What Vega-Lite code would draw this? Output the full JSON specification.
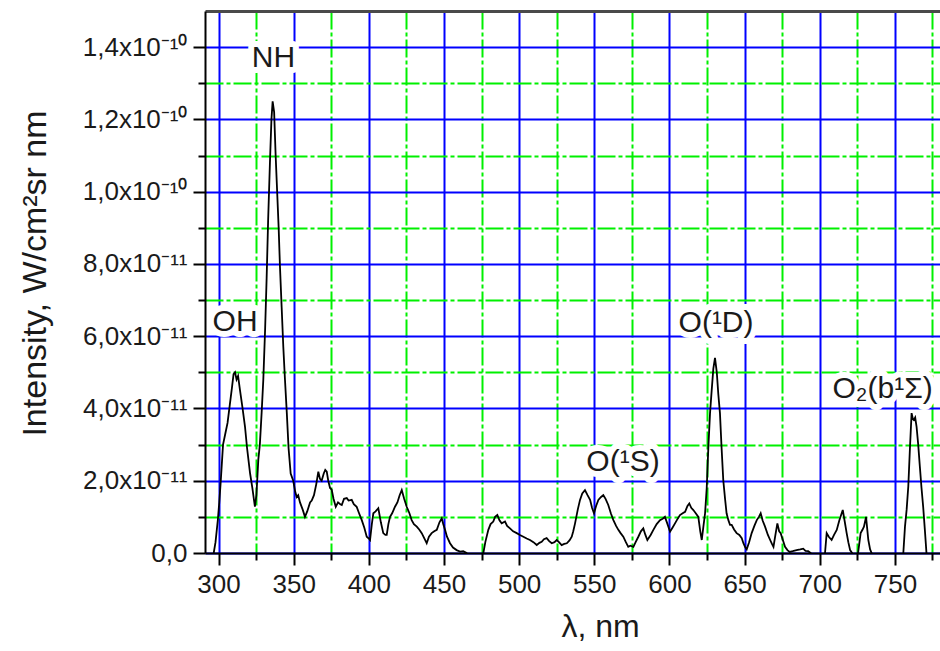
{
  "$schema": "https://vega.github.io/schema/vega-lite/v6.json",
  "width": 735,
  "height": 542,
  "autosize": {"type": "none"},
  "padding": {"left": 205, "top": 11, "right": 0, "bottom": 98},
  "background": "white",
  "config": {
    "view": {"stroke": null},
    "font": "Liberation Sans",
    "axis": {"labelFont": "Liberation Sans", "titleFont": "Liberation Sans", "titleFontWeight": "normal", "labelColor": "#1a1a1a", "titleColor": "#1a1a1a"}
  },
  "datasets": {
    "spectrum": [
      {"lam": 296.0, "I": -0.1e-11}, {"lam": 296.8, "I": 0.0}, {"lam": 298.0, "I": 0.3e-11}, {"lam": 299.5, "I": 0.9e-11},
      {"lam": 300.5, "I": 1.4e-11}, {"lam": 301.5, "I": 2.0e-11}, {"lam": 303.0, "I": 3.0e-11}, {"lam": 304.5, "I": 3.3e-11},
      {"lam": 306.0, "I": 3.6e-11}, {"lam": 307.5, "I": 4.1e-11}, {"lam": 309.0, "I": 4.6e-11}, {"lam": 310.0, "I": 4.95e-11},
      {"lam": 311.0, "I": 5.0e-11}, {"lam": 312.0, "I": 4.8e-11}, {"lam": 313.0, "I": 4.9e-11}, {"lam": 314.3, "I": 4.5e-11},
      {"lam": 316.0, "I": 4.0e-11}, {"lam": 317.6, "I": 3.5e-11}, {"lam": 319.0, "I": 2.9e-11}, {"lam": 321.0, "I": 2.2e-11},
      {"lam": 322.5, "I": 1.8e-11}, {"lam": 324.2, "I": 1.28e-11}, {"lam": 325.2, "I": 1.6e-11}, {"lam": 326.5, "I": 2.6e-11},
      {"lam": 327.5, "I": 3.0e-11}, {"lam": 328.7, "I": 3.9e-11}, {"lam": 329.8, "I": 4.8e-11}, {"lam": 331.0, "I": 6.2e-11},
      {"lam": 332.0, "I": 7.6e-11}, {"lam": 333.0, "I": 9.2e-11}, {"lam": 334.2, "I": 10.8e-11}, {"lam": 335.2, "I": 12.0e-11},
      {"lam": 336.0, "I": 12.5e-11}, {"lam": 337.0, "I": 12.2e-11}, {"lam": 338.0, "I": 11.0e-11}, {"lam": 338.7, "I": 10.3e-11},
      {"lam": 340.0, "I": 9.0e-11}, {"lam": 340.9, "I": 7.9e-11}, {"lam": 342.0, "I": 6.8e-11}, {"lam": 343.1, "I": 5.7e-11},
      {"lam": 344.2, "I": 4.8e-11}, {"lam": 345.4, "I": 3.9e-11}, {"lam": 346.6, "I": 2.9e-11}, {"lam": 348.0, "I": 2.2e-11},
      {"lam": 349.7, "I": 2.0e-11}, {"lam": 351.0, "I": 1.7e-11}, {"lam": 352.0, "I": 1.55e-11}, {"lam": 353.0, "I": 1.6e-11},
      {"lam": 354.2, "I": 1.4e-11}, {"lam": 356.0, "I": 1.2e-11}, {"lam": 357.5, "I": 1.0e-11}, {"lam": 359.0, "I": 1.15e-11},
      {"lam": 360.9, "I": 1.4e-11}, {"lam": 362.0, "I": 1.45e-11}, {"lam": 363.5, "I": 1.6e-11}, {"lam": 365.0, "I": 1.9e-11},
      {"lam": 366.4, "I": 2.25e-11}, {"lam": 367.5, "I": 2.05e-11}, {"lam": 368.6, "I": 2.0e-11}, {"lam": 370.0, "I": 2.2e-11},
      {"lam": 371.0, "I": 2.3e-11}, {"lam": 372.0, "I": 2.25e-11}, {"lam": 373.0, "I": 2.0e-11}, {"lam": 374.2, "I": 1.8e-11},
      {"lam": 375.3, "I": 1.75e-11}, {"lam": 376.5, "I": 1.5e-11}, {"lam": 378.0, "I": 1.28e-11}, {"lam": 379.5, "I": 1.4e-11},
      {"lam": 381.0, "I": 1.35e-11}, {"lam": 382.0, "I": 1.33e-11}, {"lam": 383.5, "I": 1.5e-11}, {"lam": 385.3, "I": 1.52e-11},
      {"lam": 386.5, "I": 1.45e-11}, {"lam": 388.6, "I": 1.47e-11}, {"lam": 390.0, "I": 1.35e-11}, {"lam": 391.9, "I": 1.28e-11},
      {"lam": 393.5, "I": 1.1e-11}, {"lam": 395.3, "I": 0.91e-11}, {"lam": 397.0, "I": 0.7e-11}, {"lam": 398.6, "I": 0.45e-11},
      {"lam": 400.0, "I": 0.4e-11}, {"lam": 400.8, "I": 0.36e-11}, {"lam": 402.0, "I": 0.8e-11}, {"lam": 403.0, "I": 1.1e-11},
      {"lam": 404.5, "I": 1.15e-11}, {"lam": 406.3, "I": 1.24e-11}, {"lam": 408.0, "I": 0.85e-11}, {"lam": 409.6, "I": 0.55e-11},
      {"lam": 411.0, "I": 0.5e-11}, {"lam": 411.9, "I": 0.5e-11}, {"lam": 413.0, "I": 0.8e-11}, {"lam": 414.1, "I": 1.0e-11},
      {"lam": 415.5, "I": 1.1e-11}, {"lam": 417.4, "I": 1.28e-11}, {"lam": 419.0, "I": 1.4e-11}, {"lam": 420.5, "I": 1.6e-11},
      {"lam": 421.9, "I": 1.74e-11}, {"lam": 423.5, "I": 1.5e-11}, {"lam": 425.2, "I": 1.28e-11}, {"lam": 427.0, "I": 1.1e-11},
      {"lam": 428.5, "I": 0.91e-11}, {"lam": 430.0, "I": 0.8e-11}, {"lam": 431.9, "I": 0.73e-11}, {"lam": 433.5, "I": 0.65e-11},
      {"lam": 435.2, "I": 0.55e-11}, {"lam": 437.0, "I": 0.4e-11}, {"lam": 438.5, "I": 0.27e-11}, {"lam": 440.0, "I": 0.45e-11},
      {"lam": 441.8, "I": 0.55e-11}, {"lam": 443.5, "I": 0.6e-11}, {"lam": 445.2, "I": 0.64e-11}, {"lam": 447.0, "I": 0.85e-11},
      {"lam": 448.5, "I": 0.96e-11}, {"lam": 449.5, "I": 0.8e-11}, {"lam": 450.7, "I": 0.64e-11}, {"lam": 452.0, "I": 0.45e-11},
      {"lam": 454.0, "I": 0.27e-11}, {"lam": 456.0, "I": 0.15e-11}, {"lam": 458.4, "I": 0.08e-11}, {"lam": 460.7, "I": 0.04e-11},
      {"lam": 462.8, "I": 0.05e-11}, {"lam": 465.0, "I": 0.0}, {"lam": 466.0, "I": -0.1e-11}, {"lam": 475.0, "I": -0.1e-11},
      {"lam": 476.2, "I": 0.0}, {"lam": 477.5, "I": 0.3e-11}, {"lam": 479.5, "I": 0.64e-11}, {"lam": 481.0, "I": 0.8e-11},
      {"lam": 482.8, "I": 0.87e-11}, {"lam": 484.0, "I": 1.0e-11}, {"lam": 485.5, "I": 1.05e-11}, {"lam": 487.0, "I": 0.9e-11},
      {"lam": 488.4, "I": 0.82e-11}, {"lam": 490.6, "I": 0.87e-11}, {"lam": 492.0, "I": 0.75e-11}, {"lam": 493.9, "I": 0.68e-11},
      {"lam": 496.0, "I": 0.6e-11}, {"lam": 498.4, "I": 0.55e-11}, {"lam": 500.5, "I": 0.5e-11}, {"lam": 502.8, "I": 0.45e-11},
      {"lam": 505.0, "I": 0.4e-11}, {"lam": 507.2, "I": 0.36e-11}, {"lam": 509.5, "I": 0.3e-11}, {"lam": 511.7, "I": 0.22e-11},
      {"lam": 513.5, "I": 0.28e-11}, {"lam": 515.0, "I": 0.31e-11}, {"lam": 516.5, "I": 0.38e-11}, {"lam": 518.3, "I": 0.41e-11},
      {"lam": 520.0, "I": 0.33e-11}, {"lam": 521.7, "I": 0.27e-11}, {"lam": 523.5, "I": 0.3e-11}, {"lam": 525.0, "I": 0.36e-11},
      {"lam": 526.5, "I": 0.3e-11}, {"lam": 528.3, "I": 0.22e-11}, {"lam": 530.0, "I": 0.25e-11}, {"lam": 531.7, "I": 0.27e-11},
      {"lam": 533.5, "I": 0.35e-11}, {"lam": 535.0, "I": 0.45e-11}, {"lam": 536.0, "I": 0.6e-11}, {"lam": 537.2, "I": 0.82e-11},
      {"lam": 539.0, "I": 1.2e-11}, {"lam": 540.5, "I": 1.47e-11}, {"lam": 542.0, "I": 1.65e-11}, {"lam": 543.8, "I": 1.74e-11},
      {"lam": 545.5, "I": 1.6e-11}, {"lam": 547.2, "I": 1.47e-11}, {"lam": 548.5, "I": 1.25e-11}, {"lam": 549.8, "I": 1.1e-11},
      {"lam": 551.2, "I": 1.3e-11}, {"lam": 552.7, "I": 1.47e-11}, {"lam": 554.5, "I": 1.55e-11}, {"lam": 556.0, "I": 1.6e-11},
      {"lam": 557.5, "I": 1.5e-11}, {"lam": 559.3, "I": 1.33e-11}, {"lam": 561.0, "I": 1.1e-11}, {"lam": 562.7, "I": 0.91e-11},
      {"lam": 564.5, "I": 0.75e-11}, {"lam": 566.0, "I": 0.64e-11}, {"lam": 567.5, "I": 0.55e-11}, {"lam": 569.3, "I": 0.45e-11},
      {"lam": 571.0, "I": 0.3e-11}, {"lam": 572.6, "I": 0.17e-11}, {"lam": 574.0, "I": 0.2e-11}, {"lam": 576.0, "I": 0.17e-11},
      {"lam": 577.5, "I": 0.3e-11}, {"lam": 579.3, "I": 0.45e-11}, {"lam": 581.0, "I": 0.6e-11}, {"lam": 582.6, "I": 0.68e-11},
      {"lam": 584.0, "I": 0.5e-11}, {"lam": 585.3, "I": 0.36e-11}, {"lam": 587.5, "I": 0.5e-11}, {"lam": 589.3, "I": 0.64e-11},
      {"lam": 591.5, "I": 0.8e-11}, {"lam": 593.7, "I": 0.91e-11}, {"lam": 595.5, "I": 0.95e-11}, {"lam": 597.0, "I": 1.0e-11},
      {"lam": 598.7, "I": 0.8e-11}, {"lam": 600.4, "I": 0.59e-11}, {"lam": 602.0, "I": 0.7e-11}, {"lam": 603.7, "I": 0.82e-11},
      {"lam": 605.5, "I": 0.95e-11}, {"lam": 607.0, "I": 1.05e-11}, {"lam": 608.8, "I": 1.1e-11}, {"lam": 610.4, "I": 1.14e-11},
      {"lam": 612.0, "I": 1.3e-11}, {"lam": 613.2, "I": 1.37e-11}, {"lam": 614.5, "I": 1.25e-11}, {"lam": 615.9, "I": 1.19e-11},
      {"lam": 617.5, "I": 1.1e-11}, {"lam": 619.2, "I": 1.0e-11}, {"lam": 620.5, "I": 0.6e-11}, {"lam": 621.5, "I": 0.36e-11},
      {"lam": 622.5, "I": 0.7e-11}, {"lam": 623.7, "I": 1.1e-11}, {"lam": 624.8, "I": 1.8e-11}, {"lam": 625.9, "I": 2.94e-11},
      {"lam": 627.0, "I": 3.87e-11}, {"lam": 628.1, "I": 4.5e-11}, {"lam": 629.2, "I": 5.1e-11}, {"lam": 630.3, "I": 5.4e-11},
      {"lam": 631.5, "I": 5.0e-11}, {"lam": 632.5, "I": 4.4e-11}, {"lam": 633.6, "I": 3.87e-11}, {"lam": 634.7, "I": 2.9e-11},
      {"lam": 635.8, "I": 2.02e-11}, {"lam": 637.0, "I": 1.5e-11}, {"lam": 638.0, "I": 1.1e-11}, {"lam": 639.2, "I": 0.91e-11},
      {"lam": 640.3, "I": 0.78e-11}, {"lam": 641.4, "I": 0.78e-11}, {"lam": 643.0, "I": 0.65e-11}, {"lam": 644.7, "I": 0.55e-11},
      {"lam": 646.5, "I": 0.5e-11}, {"lam": 648.1, "I": 0.41e-11}, {"lam": 649.2, "I": 0.27e-11}, {"lam": 650.5, "I": 0.15e-11},
      {"lam": 651.4, "I": 0.1e-11}, {"lam": 653.0, "I": 0.3e-11}, {"lam": 654.7, "I": 0.55e-11}, {"lam": 656.5, "I": 0.75e-11},
      {"lam": 658.1, "I": 0.91e-11}, {"lam": 659.5, "I": 1.0e-11}, {"lam": 660.7, "I": 1.1e-11}, {"lam": 662.0, "I": 0.9e-11},
      {"lam": 663.6, "I": 0.73e-11}, {"lam": 665.5, "I": 0.5e-11}, {"lam": 667.0, "I": 0.36e-11}, {"lam": 668.2, "I": 0.25e-11},
      {"lam": 669.2, "I": 0.17e-11}, {"lam": 670.5, "I": 0.5e-11}, {"lam": 671.8, "I": 0.82e-11}, {"lam": 673.0, "I": 0.6e-11},
      {"lam": 674.0, "I": 0.55e-11}, {"lam": 675.5, "I": 0.35e-11}, {"lam": 676.9, "I": 0.17e-11}, {"lam": 678.5, "I": 0.08e-11},
      {"lam": 680.0, "I": 0.03e-11}, {"lam": 682.0, "I": 0.05e-11}, {"lam": 684.6, "I": 0.08e-11}, {"lam": 687.0, "I": 0.1e-11},
      {"lam": 689.0, "I": 0.12e-11}, {"lam": 690.5, "I": 0.06e-11}, {"lam": 692.3, "I": 0.05e-11}, {"lam": 694.0, "I": 0.0},
      {"lam": 695.0, "I": -0.1e-11}, {"lam": 702.5, "I": -0.1e-11}, {"lam": 703.5, "I": 0.0}, {"lam": 704.6, "I": 0.55e-11},
      {"lam": 706.0, "I": 0.45e-11}, {"lam": 707.9, "I": 0.36e-11}, {"lam": 709.5, "I": 0.5e-11}, {"lam": 711.3, "I": 0.64e-11},
      {"lam": 713.0, "I": 0.9e-11}, {"lam": 715.3, "I": 1.19e-11}, {"lam": 716.5, "I": 0.9e-11}, {"lam": 717.9, "I": 0.55e-11},
      {"lam": 719.0, "I": 0.3e-11}, {"lam": 720.2, "I": 0.08e-11}, {"lam": 721.5, "I": 0.0}, {"lam": 723.0, "I": -0.1e-11},
      {"lam": 725.5, "I": 0.0}, {"lam": 727.2, "I": 0.55e-11}, {"lam": 728.5, "I": 0.65e-11}, {"lam": 729.4, "I": 0.73e-11},
      {"lam": 730.8, "I": 1.0e-11}, {"lam": 731.5, "I": 0.7e-11}, {"lam": 732.3, "I": 0.36e-11}, {"lam": 733.5, "I": 0.1e-11},
      {"lam": 734.5, "I": 0.0}, {"lam": 735.5, "I": -0.1e-11}, {"lam": 754.5, "I": -0.1e-11}, {"lam": 755.6, "I": 0.0},
      {"lam": 756.7, "I": 0.73e-11}, {"lam": 757.8, "I": 1.2e-11}, {"lam": 758.9, "I": 1.84e-11}, {"lam": 760.0, "I": 2.9e-11},
      {"lam": 761.1, "I": 3.87e-11}, {"lam": 762.0, "I": 3.7e-11}, {"lam": 762.6, "I": 3.68e-11}, {"lam": 763.5, "I": 3.75e-11},
      {"lam": 764.4, "I": 3.5e-11}, {"lam": 765.5, "I": 3.0e-11}, {"lam": 766.6, "I": 2.39e-11}, {"lam": 767.7, "I": 1.8e-11},
      {"lam": 768.8, "I": 1.28e-11}, {"lam": 770.0, "I": 0.6e-11}, {"lam": 771.0, "I": 0.0}, {"lam": 772.0, "I": -0.1e-11},
      {"lam": 780.0, "I": -0.1e-11}
    ],
    "labels": [
      {"lam": 336.6, "I": 13.69e-11, "text": "NH"},
      {"lam": 311.0, "I": 6.39e-11, "text": "OH"},
      {"lam": 569.1, "I": 2.52e-11, "text": "O(¹S)"},
      {"lam": 631.0, "I": 6.37e-11, "text": "O(¹D)"},
      {"lam": 741.8, "I": 4.55e-11, "text": "O₂(b¹Σ)"}
    ]
  },
  "encoding": {
    "x": {"field": "lam", "type": "quantitative", "scale": {"domain": [291, 780], "nice": false, "zero": false},
      "axis": {
        "orient": "bottom",
        "values": [300, 325, 350, 375, 400, 425, 450, 475, 500, 525, 550, 575, 600, 625, 650, 675, 700, 725, 750, 775],
        "grid": true,
        "gridColor": {"condition": {"test": "datum.value % 50 === 0", "value": "#0000ff"}, "value": "#00f000"},
        "gridDash": {"condition": {"test": "datum.value % 50 === 0", "value": []}, "value": [18, 3, 4, 3]},
        "gridWidth": 2, "gridOpacity": 1,
        "tickSize": 12, "tickWidth": 2, "tickColor": "black",
        "tickDash": {"condition": {"test": "datum.value % 50 === 0", "value": []}, "value": [7, 40]},
        "domainColor": "black", "domainWidth": 2,
        "labelExpr": "datum.value % 50 === 0 ? datum.label : ''",
        "labelFontSize": 26, "labelPadding": 6, "labelFlush": false, "labelOverlap": false,
        "title": "λ, nm", "titleFontSize": 32, "titlePadding": 14, "titleX": 395
      }},
    "y": {"field": "I", "type": "quantitative", "scale": {"domain": [0, 1.5e-10], "nice": false, "zero": false},
      "axis": {
        "orient": "left",
        "values": [0, 1e-11, 2e-11, 3e-11, 4e-11, 5e-11, 6e-11, 7e-11, 8e-11, 9e-11, 1e-10, 1.1e-10, 1.2e-10, 1.3e-10, 1.4e-10],
        "grid": true,
        "gridColor": {"condition": {"test": "round(datum.value * 1e11) % 2 === 0", "value": "#0000ff"}, "value": "#00f000"},
        "gridDash": {"condition": {"test": "round(datum.value * 1e11) % 2 === 0", "value": []}, "value": [18, 3, 4, 3]},
        "gridWidth": 2, "gridOpacity": 1,
        "tickSize": 12, "tickWidth": 2, "tickColor": "black",
        "tickDash": {"condition": {"test": "round(datum.value * 1e11) % 2 === 0", "value": []}, "value": [7, 40]},
        "domainColor": "black", "domainWidth": 2,
        "labelExpr": "datum.value == 0 ? '0,0' : (round(datum.value * 1e11) % 2 !== 0 ? '' : (datum.value < 9.5e-11 ? round(datum.value * 1e11) + ',0x10⁻¹¹' : replace(format(datum.value * 1e10, '.1f'), '.', ',') + 'x10⁻¹⁰'))",
        "labelFontSize": 26, "labelPadding": 6, "labelFlush": false, "labelOverlap": false,
        "title": "Intensity, W/cm²sr nm", "titleFontSize": 34, "titlePadding": 30, "titleY": 262
      }}
  },
  "layer": [
    {
      "data": {"name": "labels"},
      "mark": {"type": "text", "fontSize": 30, "font": "Liberation Sans", "align": "center", "baseline": "middle", "fill": "white", "stroke": "white", "strokeWidth": 12, "strokeJoin": "round"},
      "encoding": {
        "x": {"field": "lam", "type": "quantitative",
          "axis": {"orient": "top", "labels": false, "ticks": false, "grid": false, "domain": true, "domainColor": "#4a4a4a", "domainWidth": 3, "title": null}},
        "text": {"field": "text"}
      }
    },
    {
      "data": {"name": "spectrum"},
      "mark": {"type": "line", "color": "black", "strokeWidth": 1.8, "clip": true, "interpolate": "linear"}
    },
    {
      "data": {"name": "labels"},
      "mark": {"type": "text", "fontSize": 30, "font": "Liberation Sans", "align": "center", "baseline": "middle", "fill": "#1a1a1a"},
      "encoding": {
        "x": {"field": "lam", "type": "quantitative", "axis": null},
        "text": {"field": "text"}
      }
    }
  ]
}
